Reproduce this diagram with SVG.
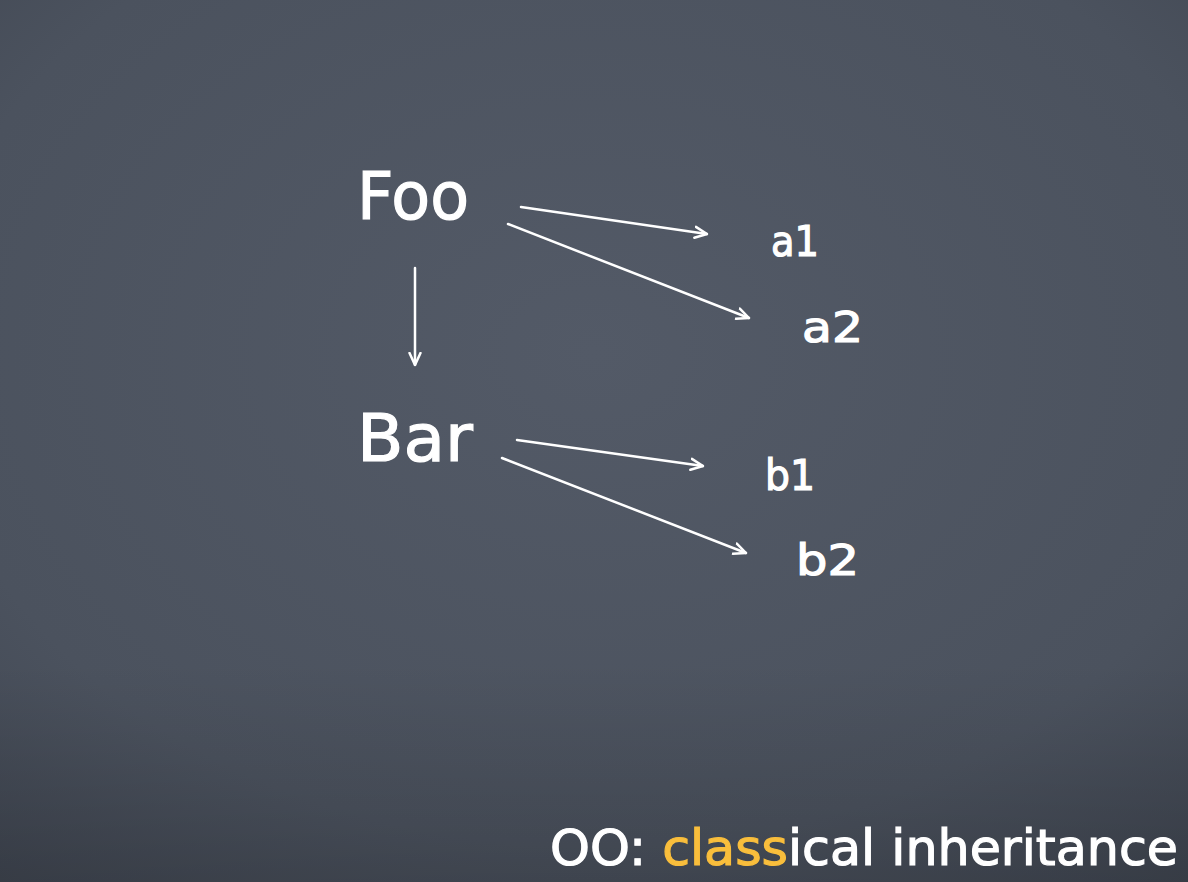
<svg xmlns="http://www.w3.org/2000/svg" width="1188" height="882" viewBox="0 0 1188 882">
<style>
.lbl{font-family:"DejaVu Sans","Noto Sans",sans-serif;fill:#ffffff;stroke:#ffffff;stroke-width:1.2}
.big{font-size:66px}
.small{font-size:42px}
.con{stroke:#ffffff;stroke-width:2.5;fill:none;stroke-linecap:round}
</style>
<defs>
<radialGradient id="bg" cx="0.5" cy="0.4" r="0.8">
<stop offset="0" stop-color="#535a67"/>
<stop offset="0.7" stop-color="#4b525e"/>
<stop offset="1" stop-color="#3f4550"/>
</radialGradient>
<linearGradient id="bot" x1="0" y1="0" x2="0" y2="1">
<stop offset="0.75" stop-color="#000" stop-opacity="0"/>
<stop offset="1" stop-color="#000" stop-opacity="0.15"/>
</linearGradient>
<marker id="arr" viewBox="0 0 14 14" refX="13" refY="7" markerWidth="14" markerHeight="14" markerUnits="userSpaceOnUse" orient="auto">
<path d="M1,1.5 L13,7 L1,12.5" stroke="#ffffff" stroke-width="2.5" fill="none" stroke-linecap="round" stroke-linejoin="round"/>
</marker>
</defs>
<rect width="1188" height="882" fill="url(#bg)"/>
<rect width="1188" height="882" fill="url(#bot)"/>
<g id="connectors">
<line class="con" x1="521" y1="207" x2="707" y2="234" marker-end="url(#arr)"/>
<line class="con" x1="508" y1="224" x2="749" y2="318" marker-end="url(#arr)"/>
<line class="con" x1="415" y1="268" x2="415" y2="365" marker-end="url(#arr)"/>
<line class="con" x1="517" y1="440" x2="703" y2="466" marker-end="url(#arr)"/>
<line class="con" x1="502" y1="458" x2="746" y2="553" marker-end="url(#arr)"/>
</g>
<g id="foo"><text class="lbl big" x="357" y="219" textLength="112" lengthAdjust="spacingAndGlyphs">Foo</text></g>
<g id="bar"><text class="lbl big" x="357" y="461" textLength="116" lengthAdjust="spacingAndGlyphs">Bar</text></g>
<g id="a1"><text class="lbl small" x="771" y="256" textLength="48" lengthAdjust="spacingAndGlyphs">a1</text></g>
<g id="a2"><text class="lbl small" x="802" y="342" textLength="61" lengthAdjust="spacingAndGlyphs">a2</text></g>
<g id="b1"><text class="lbl small" x="765" y="490" textLength="50" lengthAdjust="spacingAndGlyphs">b1</text></g>
<g id="b2"><text class="lbl small" x="796" y="575" textLength="63" lengthAdjust="spacingAndGlyphs">b2</text></g>
<g id="title"><text class="lbl" x="550" y="865" font-size="50" textLength="628" lengthAdjust="spacingAndGlyphs">OO: <tspan fill="#f9be3c" stroke="#f9be3c">class</tspan>ical inheritance</text></g>
</svg>
